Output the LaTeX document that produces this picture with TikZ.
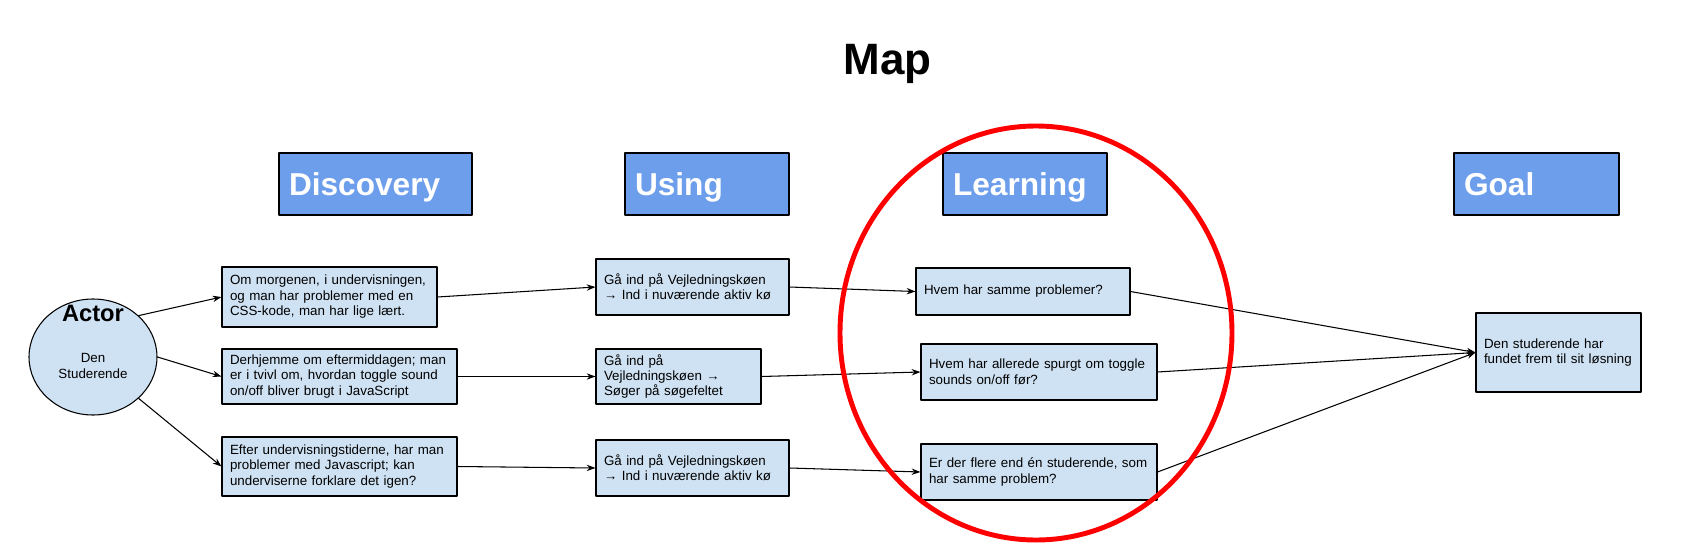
\documentclass[tikz,border=0pt]{standalone}
\usepackage{fontspec}
\setmainfont{Liberation Sans}
\usetikzlibrary{arrows.meta,shapes.geometric}

\definecolor{stageblue}{HTML}{6D9EEB}
\definecolor{cardblue}{HTML}{CFE2F3}
\definecolor{ringred}{HTML}{FF0000}

\tikzset{
	stage/.style={draw=black, line width=.6pt, fill=stageblue, text=white,
		font=\bfseries\fontsize{18}{20}\selectfont, align=left,
		inner xsep=.2cm, inner ysep=0pt, minimum height=1.24cm,
		text height=13pt, text depth=0pt},
	card/.style={draw=black, line width=.6pt, fill=cardblue,
		font=\fontsize{7.6}{8.8}\selectfont, align=left,
		inner xsep=.16cm, inner ysep=0pt},
	link/.style={->, line width=.6pt},
}

\begin{document}
\begin{tikzpicture}[>={Stealth[length=5pt,width=3.6pt]}, line cap=round, line join=round]
	
	\useasboundingbox (0,0) rectangle (33.7,11.1);
	
	% Titel
	\node[font=\bfseries\fontsize{25}{30}\selectfont, anchor=base] (title) at (17.75,9.62) {Map};
	
	% Faser
	\node[stage, text width=3.46cm] (discovery) at (7.51,7.42) {Discovery};
	\node[stage, text width=2.88cm] (using) at (14.14,7.42) {Using};
	\node[stage, text width=2.88cm] (learning) at (20.5,7.42) {Learning};
	\node[stage, text width=2.90cm] (goal) at (30.73,7.42) {Goal};
	
	% Aktør
	\node[ellipse, draw=black, line width=.6pt, fill=cardblue,
		minimum width=2.56cm, minimum height=2.32cm] (actor) at (1.86,3.96) {};
	\node[font=\bfseries\fontsize{13.5}{16}\selectfont, inner sep=0pt, anchor=north]
		(actortitle) at ([yshift=-.12cm]actor.north) {Actor};
	\node[font=\fontsize{7.6}{8.8}\selectfont, align=center, inner sep=0pt]
		(actorname) at ([yshift=-.18cm]actor.center) {Den\\Studerende};
	
	% Discovery
	\node[card, text width=3.98cm, minimum height=1.20cm] (disc1) at (6.59,5.16)
		{Om morgenen, i undervisningen,\\og man har problemer med en\\CSS-kode, man har lige lært.};
	\node[card, text width=4.38cm, minimum height=1.10cm] (disc2) at (6.79,3.57)
		{Derhjemme om eftermiddagen; man\\er i tvivl om, hvordan toggle sound\\on/off bliver brugt i JavaScript};
	\node[card, text width=4.38cm, minimum height=1.18cm] (disc3) at (6.79,1.77)
		{Efter undervisningstiderne, har man\\problemer med Javascript; kan\\underviserne forklare det igen?};
	
	% Using
	\node[card, text width=3.54cm, minimum height=1.12cm] (use1) at (13.85,5.36)
		{Gå ind på Vejledningskøen\\→ Ind i nuværende aktiv kø};
	\node[card, text width=2.98cm, minimum height=1.10cm] (use2) at (13.57,3.57)
		{Gå ind på\\Vejledningskøen →\\Søger på søgefeltet};
	\node[card, text width=3.54cm, minimum height=1.12cm] (use3) at (13.85,1.74)
		{Gå ind på Vejledningskøen\\→ Ind i nuværende aktiv kø};
	
	% Learning
	\node[card, text width=3.96cm, minimum height=0.94cm] (learn1) at (20.46,5.27)
		{Hvem har samme problemer?};
	\node[card, text width=4.40cm, minimum height=1.12cm] (learn2) at (20.78,3.66)
		{Hvem har allerede spurgt om toggle\\sounds on/off før?};
	\node[card, text width=4.40cm, minimum height=1.12cm] (learn3) at (20.78,1.66)
		{Er der flere end én studerende, som\\har samme problem?};
	
	% Goal
	\node[card, text width=2.98cm, minimum height=1.58cm] (solved) at (31.17,4.05)
		{Den studerende har\\fundet frem til sit løsning};
	
	% Forbindelser
	\draw[link] (actor.north east) -- (disc1.west);
	\draw[link] (actor.east) -- (disc2.west);
	\draw[link] (actor.south east) -- (disc3.west);
	
	\draw[link] (disc1.east) -- (use1.west);
	\draw[link] (disc2.east) -- (use2.west);
	\draw[link] (disc3.east) -- (use3.west);
	
	\draw[link] (use1.east) -- (learn1.west);
	\draw[link] (use2.east) -- (learn2.west);
	\draw[link] (use3.east) -- (learn3.west);
	
	\draw[link] (learn1.east) -- (solved.west);
	\draw[link] (learn2.east) -- (solved.west);
	\draw[link] (learn3.east) -- (solved.west);
	
	% Ring om Learning
	\draw[ringred, line width=2.8pt] (20.72,4.44) ellipse (3.92cm and 4.14cm);
	
\end{tikzpicture}
\end{document}
